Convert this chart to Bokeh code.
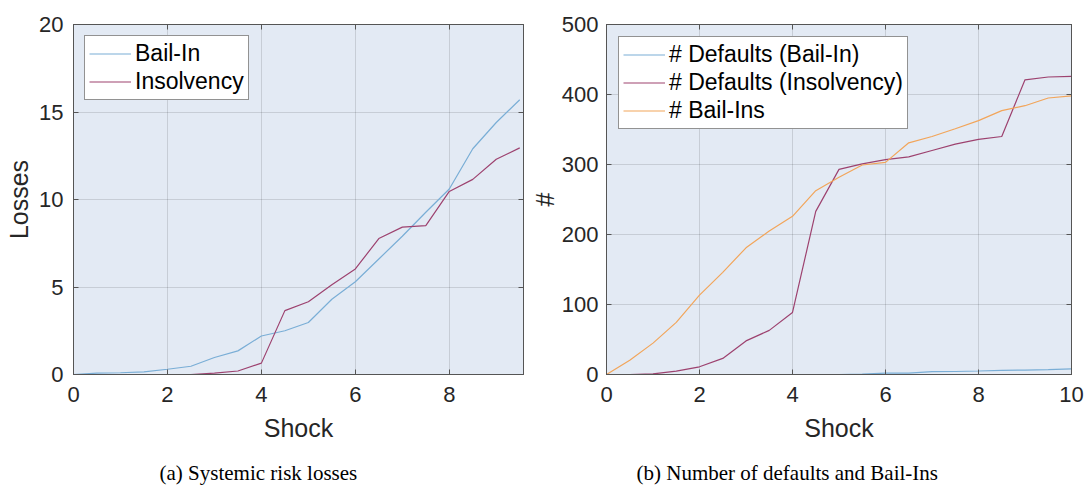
from bokeh.plotting import figure
from bokeh.models import Legend, LegendItem, LinearAxis, Label, Range1d, FixedTicker
from bokeh.layouts import row, column
from bokeh.embed import file_html
from bokeh.resources import INLINE

# ---- data (a) Systemic risk losses ----
shock_a = [0, 0.5, 1, 1.5, 2, 2.5, 3, 3.5, 4, 4.5, 5, 5.5, 6, 6.5, 7, 7.5, 8, 8.5, 9, 9.5]
losses_bailin = [0, 0.08, 0.1, 0.15, 0.3, 0.47, 0.97, 1.35, 2.2, 2.5, 2.97, 4.3, 5.3, 6.6,
                 7.9, 9.27, 10.6, 12.9, 14.4, 15.7]
losses_insolvency = [0, 0, 0, 0, 0, 0, 0.08, 0.2, 0.65, 3.65, 4.16, 5.13, 6.03, 7.77,
                     8.42, 8.51, 10.46, 11.15, 12.3, 12.95]

# ---- data (b) Number of defaults and Bail-Ins ----
shock_b = [0, 0.5, 1, 1.5, 2, 2.5, 3, 3.5, 4, 4.5, 5, 5.5, 6, 6.5, 7, 7.5, 8, 8.5, 9, 9.5, 10]
defaults_bailin = [0, 0, 0, 0, 0, 0, 0, 0, 0, 0, 0, 0.5, 2, 2, 4, 4.3, 5, 6, 6.2, 7, 8]
defaults_insolvency = [0, 0, 1, 4.8, 11, 23, 48, 63, 88.7, 233, 293, 301, 307, 311, 320,
                       329, 336, 340, 421, 425, 426]
bailins = [0, 20.5, 44.8, 74.4, 113.4, 145.9, 181, 205, 226, 262.6, 281.7, 299.3, 303,
           331, 340, 351, 362.7, 377, 384, 395, 398]

xticks_a = [0, 2, 4, 6, 8]
yticks_a = [0, 5, 10, 15, 20]
xticks_b = [0, 2, 4, 6, 8, 10]
yticks_b = [0, 100, 200, 300, 400, 500]

captions = ["(a) Systemic risk losses", "(b) Number of defaults and Bail-Ins"]

BLUE = "#7aaed6"
MAROON = "#9d426f"
ORANGE = "#f2a55a"
BG = "#e3eaf4"
AX = "#555555"
TXT = "#262626"
SANS = "Liberation Sans"
SERIF = "Liberation Serif"
H = 455      # plot row height
HC = 30      # caption strip height


def hidden_axis(ticks):
    return LinearAxis(ticker=FixedTicker(ticks=ticks), major_label_text_font_size="1px",
                      major_label_text_color=None, major_label_standoff=0,
                      major_tick_in=5, major_tick_out=0, minor_tick_line_color=None,
                      axis_line_color=AX, major_tick_line_color=AX)


def make_fig(width, bl, br, xr, yr, xt, yt, ylabel, ylabel_standoff, ylabel_pad):
    p = figure(width=width, height=H, output_backend="svg", toolbar_location=None,
               x_range=Range1d(*xr), y_range=Range1d(*yr),
               min_border_left=bl, min_border_right=br, min_border_top=24,
               min_border_bottom=H - 24 - 350, background_fill_color=BG,
               border_fill_color="white", outline_line_color=AX, outline_line_width=1)
    for ax, ticks in ((p.xaxis[0], xt), (p.yaxis[0], yt)):
        ax.ticker = FixedTicker(ticks=ticks)
        ax.major_tick_in = 5
        ax.major_tick_out = 0
        ax.minor_tick_line_color = None
        ax.axis_line_color = AX
        ax.major_tick_line_color = AX
        ax.major_label_text_font = SANS
        ax.major_label_text_font_size = "22px"
        ax.major_label_text_color = TXT
        ax.axis_label_text_font = SANS
        ax.axis_label_text_font_size = "25px"
        ax.axis_label_text_font_style = "normal"
        ax.axis_label_text_color = TXT
    p.xaxis[0].major_label_standoff = 12
    p.xaxis[0].axis_label = "Shock"
    p.xaxis[0].axis_label_standoff = 9
    p.yaxis[0].major_label_standoff = ylabel_pad
    p.yaxis[0].axis_label = ylabel
    p.yaxis[0].axis_label_standoff = ylabel_standoff
    # mirror ticks on top and right (MATLAB box style)
    p.add_layout(hidden_axis(xt), "above")
    p.add_layout(hidden_axis(yt), "right")
    p.xgrid.ticker = FixedTicker(ticks=xt)
    p.ygrid.ticker = FixedTicker(ticks=yt)
    p.grid.grid_line_color = "#000000"
    p.grid.grid_line_alpha = 0.12
    p.grid.grid_line_width = 1
    return p


def style_legend(p, items, margin):
    lg = Legend(items=items, location="top_left", margin=margin,
                label_text_font=SANS, label_text_font_size="23px", label_text_color="black",
                glyph_width=42, glyph_height=27, label_height=27, label_standoff=4,
                spacing=1, padding=4, border_line_color=TXT, border_line_width=1,
                background_fill_color="white", background_fill_alpha=1.0)
    p.add_layout(lg)


# ---- left figure: frame x 73..523 ----
pa = make_fig(527, 73, 4, (0, 9.58), (0, 20), xticks_a, yticks_a, "Losses", 3, 10)
ra1 = pa.line(shock_a, losses_bailin, line_color=BLUE, line_width=1.2)
ra2 = pa.line(shock_a, losses_insolvency, line_color=MAROON, line_width=1.2)
style_legend(pa, [LegendItem(label="Bail-In", renderers=[ra1]),
                  LegendItem(label="Insolvency", renderers=[ra2])], 11)

# ---- right figure: frame x 606..1071 ----
pb = make_fig(559, 79, 15, (0, 10), (0, 500), xticks_b, yticks_b, "#", 0, 8)
rb1 = pb.line(shock_b, defaults_bailin, line_color=BLUE, line_width=1.2)
rb2 = pb.line(shock_b, defaults_insolvency, line_color=MAROON, line_width=1.2)
rb3 = pb.line(shock_b, bailins, line_color=ORANGE, line_width=1.2)
style_legend(pb, [LegendItem(label="# Defaults (Bail-In)", renderers=[rb1]),
                  LegendItem(label="# Defaults (Insolvency)", renderers=[rb2]),
                  LegendItem(label="# Bail-Ins", renderers=[rb3])], 12)

# ---- caption strip ----
pc = figure(width=527 + 559, height=HC, output_backend="svg", toolbar_location=None,
            x_axis_type=None, y_axis_type=None, x_range=Range1d(0, 1), y_range=Range1d(0, 1),
            min_border=0, outline_line_color=None, background_fill_color="white",
            border_fill_color="white")
pc.grid.visible = False
for txt, dx in zip(captions, [159, 636]):
    pc.add_layout(Label(x=dx, y=13, x_units="screen", y_units="screen", text=txt,
                        text_font=SERIF, text_font_size="21px", text_color="black",
                        text_baseline="alphabetic", text_align="left"))

layout = column(row(pa, pb), pc, spacing=0)
open("out.html", "w").write(file_html(layout, INLINE))
